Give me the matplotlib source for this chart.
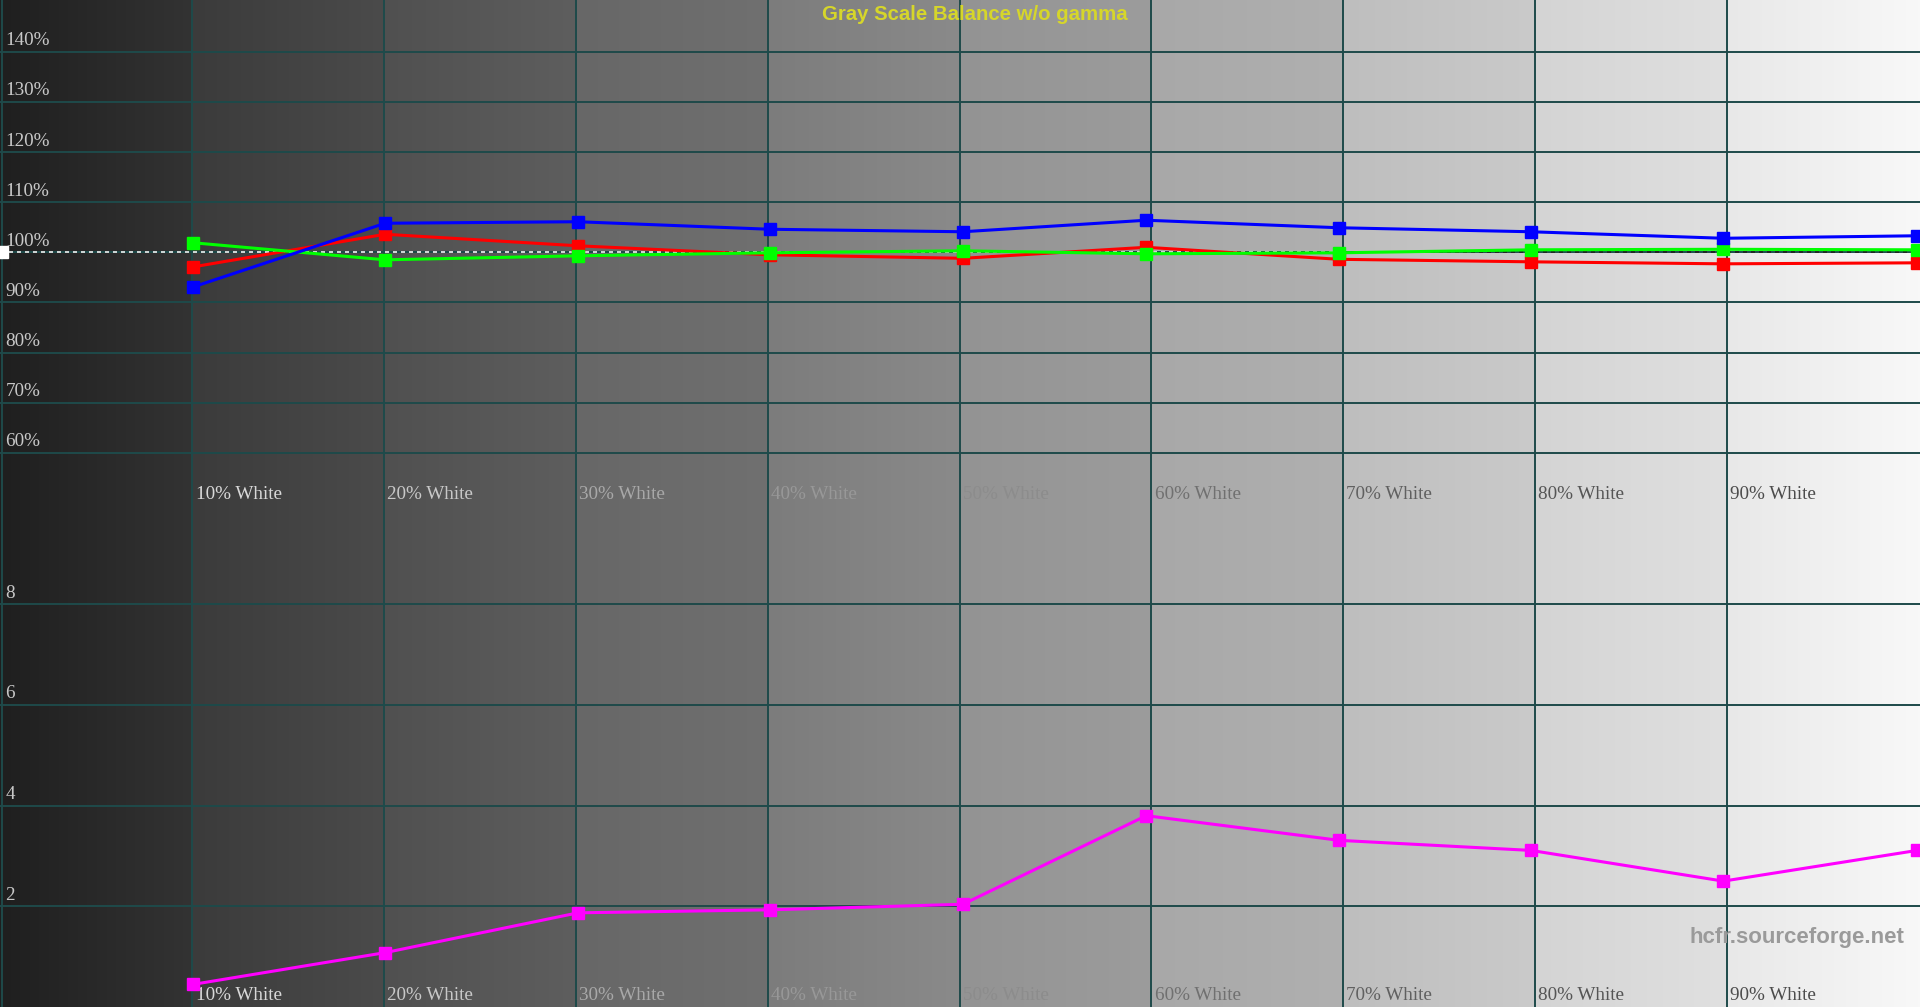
import numpy as np
import matplotlib
matplotlib.use('Agg')
import matplotlib.pyplot as plt

# measured positions of the patches (slightly off the 10% grid)
x_pos = [10.05, 20.05, 30.1, 40.1, 50.17, 59.73, 69.79, 79.79, 89.82, 99.92]
red = [97.1, 103.6, 101.3, 99.5, 98.8, 101.0, 98.6, 98.1, 97.7, 97.9]
green = [101.9, 98.5, 99.3, 99.9, 100.3, 99.7, 99.9, 100.5, 100.6, 100.5]
blue = [93.1, 105.8, 106.1, 104.6, 104.1, 106.4, 104.9, 104.1, 102.8, 103.3]
delta_e = [0.45, 1.08, 1.87, 1.93, 2.04, 3.80, 3.31, 3.11, 2.50, 3.11]

grid_x = [10, 20, 30, 40, 50, 60, 70, 80, 90]
x_labels = ['10% White', '20% White', '30% White', '40% White', '50% White',
            '60% White', '70% White', '80% White', '90% White']
pct_ticks = [60, 70, 80, 90, 100, 110, 120, 130, 140]
de_ticks = [2, 4, 6, 8]

# background band gray levels (start / end of each 10% column)
band_start = [0x1f, 0x3b, 0x50, 0x67, 0x7c, 0x93, 0xa8, 0xbe, 0xd4, 0xe8]
band_end = [0x33, 0x4b, 0x5e, 0x70, 0x8a, 0x9c, 0xb0, 0xca, 0xe0, 0xf8]
label_gray = [0xd8, 0xc8, 0xa8, 0x98, 0x8c, 0x70, 0x60, 0x55, 0x4c]

XL = (-0.03, 100.07)
GRID = '#1e4a4a'
SERIF = 'Liberation Serif'
SANS = 'Liberation Sans'

fig = plt.figure(figsize=(19.2, 10.07), dpi=100)

# gradient background
bg = fig.add_axes([0, 0, 1, 1])
xs = np.linspace(XL[0], XL[1], 1920)
band = np.clip((xs // 10).astype(int), 0, 9)
frac = (xs - band * 10) / 10
lev = (np.array(band_start)[band] + (np.array(band_end)[band] - np.array(band_start)[band]) * frac) / 255
img = np.repeat(lev[None, :, None], 3, axis=2)
bg.imshow(img, extent=(XL[0], XL[1], 0, 1), aspect='auto')
bg.set_xlim(XL)
bg.set_ylim(0, 1)
bg.axis('off')

top = fig.add_axes([0, 0.5, 1, 0.5])
bot = fig.add_axes([0, 0, 1, 0.5])
for ax in (top, bot):
    ax.patch.set_alpha(0)
    ax.set_xlim(XL)
    ax.set_xticks([])
    ax.set_yticks([])
    for s in ax.spines.values():
        s.set_visible(False)
    for gx in [0.05] + grid_x:
        ax.axvline(gx, color=GRID, lw=1.4, zorder=1)

top.set_ylim(49.86, 150.36)
bot.set_ylim(0, 10.0)

for v in pct_ticks:
    top.axhline(v, color=GRID, lw=1.4, zorder=1)
    top.text(0.25, v + 1.3, f'{v}%', color='#c8c8c8', fontsize=13.8,
             family=SERIF, va='baseline', ha='left')
for v in de_ticks:
    bot.axhline(v, color=GRID, lw=1.4, zorder=1)
    bot.text(0.25, v + 0.13, f'{v}', color='#c8c8c8', fontsize=13.8,
             family=SERIF, va='baseline', ha='left')

for gx, lab, g in zip(grid_x, x_labels, label_gray):
    c = '#%02x%02x%02x' % (g, g, g)
    top.text(gx + 0.17, 50.82, lab, color=c, fontsize=13.8, family=SERIF, va='baseline')
    bot.text(gx + 0.17, 0.13, lab, color=c, fontsize=13.8, family=SERIF, va='baseline')

# 100% reference line
top.plot([0, 70], [100, 100], color='#f0f0f0', lw=1.2, dashes=(2.4, 2.4), zorder=2)
top.plot([70, 100.07], [100, 100], color='#202020', lw=1.2, dashes=(2.4, 2.4), zorder=2)
top.plot([0.05], [100], marker='s', color='white', ms=8, zorder=3, clip_on=True)

top.plot(x_pos, red, color='#ff0000', lw=2.2, marker='s', ms=8, zorder=4)
top.plot(x_pos, green, color='#00ff00', lw=2.2, marker='s', ms=8, zorder=5)
top.plot(x_pos, blue, color='#0000ff', lw=2.2, marker='s', ms=8, zorder=6)

bot.plot(x_pos, delta_e, color='#ff00ff', lw=2.2, marker='s', ms=8, zorder=4)

fig.text(974.5 / 1920, 1 - 14 / 1007, 'Gray Scale Balance w/o gamma', ha='center', va='center',
         fontsize=14.7, fontweight='bold', color='#d6d62a', family=SANS)
fig.text(1904 / 1920, 1 - 938 / 1007, 'hcfr.sourceforge.net', ha='right', va='center',
         fontsize=16, fontweight='bold', color='#9a9a9a', family=SANS)

fig.savefig('out.png', dpi=100)
